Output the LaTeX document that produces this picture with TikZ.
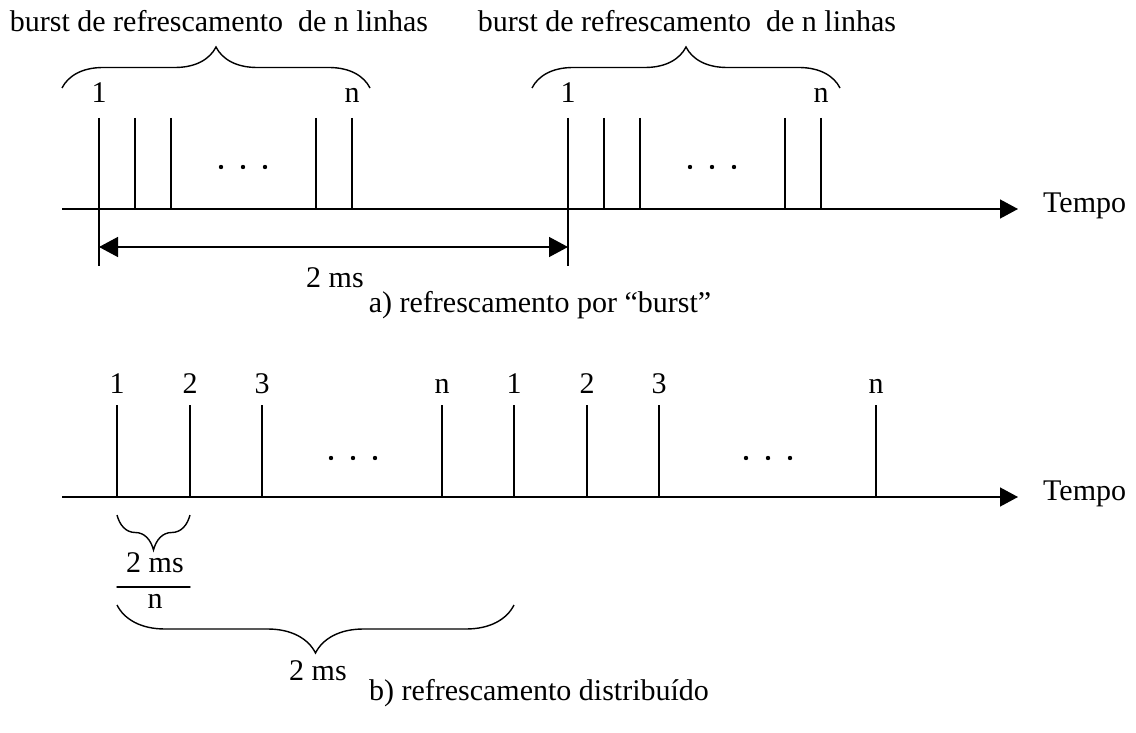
\documentclass[tikz,border=0pt]{standalone}
\usepackage{fontspec}
\setmainfont{Liberation Serif}
\usepackage{tkz-euclide}
\usetikzlibrary{arrows.meta,decorations.pathreplacing}

\tikzset{
  lbl/.style={font=\fontsize{30}{36}\selectfont,inner sep=0pt,anchor=base},
  tickln/.style={line width=1.4pt},
  timeaxis/.style={line width=1.4pt,-{Triangle[length=18pt,width=19pt]}},
  dimarrow/.style={line width=1.4pt,{Triangle[length=19pt,width=20pt]}-{Triangle[length=19pt,width=20pt]}},
  brc/.style={line width=1.4pt,decorate,decoration={brace,amplitude=#1}},
}

\begin{document}
\begin{tikzpicture}[x=1pt,y=-1pt]
\useasboundingbox (0,0) rectangle (1136,733);

%% a) refresh in bursts
\tkzDefPoints{62/209/Oa,1018/209/Ea,99/247/La,568/247/Ra}
\tkzDefPoints{62/88/P1,370/88/P2,532/88/Q1,840/88/Q2}

\foreach \x in {99,135,171,316,352,568,604,640,785,821}
  \draw[tickln] (\x,118) -- (\x,209);
\draw[tickln] (99,209) -- (99,266);
\draw[tickln] (568,209) -- (568,266);

\draw[timeaxis] (Oa) -- (Ea);
\draw[dimarrow] (La) -- (Ra);

\draw[brc=41] (P1) -- (P2);
\draw[brc=41] (Q1) -- (Q2);

\foreach \x in {221,243,265,690,712,734}
  \fill (\x,167) circle[radius=2.2pt];

\node[lbl] (hd1) at (219,32) {burst de refrescamento\ \ de n linhas};
\node[lbl] (hd2) at (687,32) {burst de refrescamento\ \ de n linhas};
\node[lbl] (na1) at (99,103) {1};
\node[lbl] (na2) at (352,103) {n};
\node[lbl] (na3) at (568,103) {1};
\node[lbl] (na4) at (821,103) {n};
\node[lbl,anchor=base west] (tpa) at (1043,212) {Tempo};
\node[lbl] (dta) at (335,287) {2 ms};
\node[lbl] (cpa) at (540,312) {a) refrescamento por “burst”};

%% b) distributed refresh
\tkzDefPoints{62/497/Ob,1018/497/Eb,190/515/S1,117/515/S2,514/605/T1,117/605/T2}
\tkzDefPoints{117/587/F1,190/587/F2}

\foreach \x in {117,190,262,442,514,587,659,876}
  \draw[tickln] (\x,405) -- (\x,497);

\draw[timeaxis] (Ob) -- (Eb);
\draw[brc=35] (S1) -- (S2);
\draw[brc=48] (T1) -- (T2);
\tkzDrawSegment[line width=1.4pt](F1,F2)

\foreach \x in {331,353,375,746,768,790}
  \fill (\x,458) circle[radius=2.2pt];

\node[lbl] (nb1) at (117,393) {1};
\node[lbl] (nb2) at (190,393) {2};
\node[lbl] (nb3) at (262,393) {3};
\node[lbl] (nb4) at (442,393) {n};
\node[lbl] (nb5) at (514,393) {1};
\node[lbl] (nb6) at (587,393) {2};
\node[lbl] (nb7) at (659,393) {3};
\node[lbl] (nb8) at (876,393) {n};
\node[lbl,anchor=base west] (tpb) at (1043,500) {Tempo};
\node[lbl] (fnum) at (155,572) {2 ms};
\node[lbl] (fden) at (155,608) {n};
\node[lbl] (dtb) at (318,680) {2 ms};
\node[lbl] (cpb) at (539,700) {b) refrescamento distribuído};

\end{tikzpicture}
\end{document}
